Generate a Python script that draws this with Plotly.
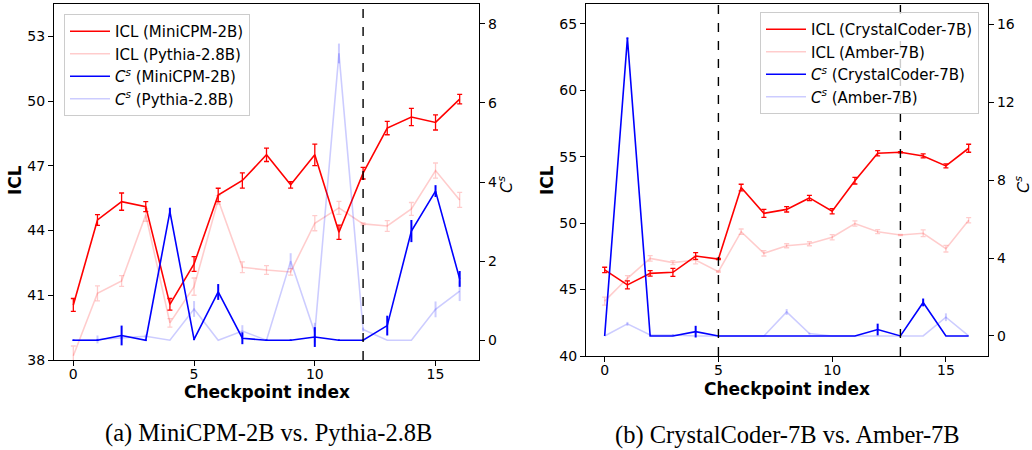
import plotly.graph_objects as go

checkpoints = list(range(17))

# (a) MiniCPM-2B vs. Pythia-2.8B
icl_minicpm = [40.55, 44.49, 45.34, 45.11, 40.58, 42.45, 45.65, 46.32, 47.51, 46.12, 47.51, 43.92, 46.66, 48.75, 49.26, 49.01, 50.09]
icl_minicpm_err = [0.3, 0.25, 0.4, 0.23, 0.27, 0.34, 0.31, 0.35, 0.31, 0.15, 0.5, 0.33, 0.27, 0.31, 0.4, 0.35, 0.22]
icl_pythia = [38.2, 41.09, 41.66, 44.73, 39.72, 41.4, 45.42, 42.3, 42.17, 42.08, 44.34, 45.05, 44.31, 44.21, 45.0, 46.78, 45.42]
icl_pythia_err = [0.45, 0.35, 0.25, 0.3, 0.2, 0.4, 0.2, 0.25, 0.2, 0.15, 0.35, 0.3, 0.05, 0.25, 0.3, 0.35, 0.35]
cs_minicpm = [0, 0, 0.12, 0, 3.25, 0.02, 1.22, 0.05, 0, 0, 0.08, 0, 0, 0.37, 2.76, 3.77, 1.55]
cs_minicpm_err = [0.02, 0.02, 0.25, 0.02, 0.1, 0.02, 0.2, 0.15, 0.02, 0.02, 0.25, 0.02, 0.02, 0.25, 0.28, 0.15, 0.2]
cs_pythia = [0, 0.02, 0.06, 0.1, 0, 0.79, 0, 0.23, 0, 2.0, 0.19, 7.25, 0.27, 0, 0, 0.78, 1.24]
cs_pythia_err = [0, 0.1, 0.05, 0.05, 0, 0.2, 0, 0.15, 0, 0.2, 0.25, 0.25, 0.05, 0, 0, 0.2, 0.25]

# (b) CrystalCoder-7B vs. Amber-7B
icl_crystal = [46.48, 45.35, 46.22, 46.3, 47.53, 47.3, 52.68, 50.74, 51.04, 51.9, 50.9, 53.2, 55.26, 55.34, 55.06, 54.31, 55.64]
icl_crystal_err = [0.2, 0.3, 0.2, 0.3, 0.25, 0.05, 0.25, 0.3, 0.2, 0.2, 0.2, 0.25, 0.2, 0.05, 0.15, 0.15, 0.3]
icl_amber = [44.13, 45.85, 47.35, 47.03, 47.23, 46.35, 49.36, 47.73, 48.3, 48.45, 48.94, 49.97, 49.36, 49.11, 49.24, 48.08, 50.22]
icl_amber_err = [0.3, 0.2, 0.2, 0.15, 0.3, 0.05, 0.2, 0.2, 0.15, 0.15, 0.2, 0.2, 0.15, 0.05, 0.25, 0.25, 0.2]
cs_crystal = [0, 15.28, 0, 0, 0.22, 0, 0, 0, 0, 0, 0, 0, 0.33, 0, 1.72, 0, 0]
cs_crystal_err = [0, 0.05, 0, 0, 0.3, 0, 0, 0, 0, 0, 0, 0, 0.3, 0, 0.2, 0, 0]
cs_amber = [0, 0.62, 0.05, 0.05, 0, 0, 0, 0, 1.23, 0.12, 0, 0, 0, 0, 0, 0.96, 0]
cs_amber_err = [0, 0.1, 0.05, 0.05, 0, 0, 0, 0, 0.15, 0.05, 0, 0, 0, 0, 0, 0.2, 0]

left_ticks = [38, 41, 44, 47, 50, 53]
left_cs_ticks = [0, 2, 4, 6, 8]
right_ticks = [40, 45, 50, 55, 60, 65]
right_cs_ticks = [0, 4, 8, 12, 16]
x_ticks = [0, 5, 10, 15]

W, H = 1032, 450
RED = "rgb(255,0,0)"
PINK = "rgba(255,0,0,0.2)"
BLUE = "rgb(0,0,255)"
LBLUE = "rgba(0,0,255,0.2)"
CS = "<i>C</i><sup><i>s</i></sup>"

fig = go.Figure()


def add(y, err, name, color, xa, ya, legend, icl):
    fig.add_trace(go.Scatter(
        x=checkpoints, y=y, name=name, mode="lines",
        line=dict(color=color, width=1.6),
        error_y=dict(type="data", array=err, color=color,
                     thickness=1.3 if icl else 2, width=2.5 if icl else 0),
        xaxis=xa, yaxis=ya, legend=legend, legendgroup=name,
    ))


add(icl_minicpm, icl_minicpm_err, "ICL (MiniCPM-2B)", RED, "x", "y", "legend", True)
add(icl_pythia, icl_pythia_err, "ICL (Pythia-2.8B)", PINK, "x", "y", "legend", True)
add(cs_minicpm, cs_minicpm_err, CS + " (MiniCPM-2B)", BLUE, "x", "y2", "legend", False)
add(cs_pythia, cs_pythia_err, CS + " (Pythia-2.8B)", LBLUE, "x", "y2", "legend", False)

add(icl_crystal, icl_crystal_err, "ICL (CrystalCoder-7B)", RED, "x2", "y3", "legend2", True)
add(icl_amber, icl_amber_err, "ICL (Amber-7B)", PINK, "x2", "y3", "legend2", True)
add(cs_crystal, cs_crystal_err, CS + " (CrystalCoder-7B)", BLUE, "x2", "y4", "legend2", False)
add(cs_amber, cs_amber_err, CS + " (Amber-7B)", LBLUE, "x2", "y4", "legend2", False)

tickfont = dict(family="DejaVu Sans", size=14, color="black")
common = dict(showline=True, linecolor="black", linewidth=1.2,
              ticks="outside", ticklen=5, tickwidth=1.1, tickcolor="black",
              showgrid=False, zeroline=False, tickfont=tickfont, automargin=False)


def px(x):
    return x / W


def py(y):
    return 1 - y / H


fig.update_layout(
    width=W, height=H,
    margin=dict(l=0, r=0, t=0, b=0),
    plot_bgcolor="white", paper_bgcolor="white",
    font=dict(family="DejaVu Sans", size=14, color="black"),
    xaxis=dict(domain=[px(54), px(479)], range=[-0.8, 16.8], tickvals=x_ticks,
               anchor="y", mirror=True, ticklabelstandoff=-4, **common),
    yaxis=dict(domain=[py(360), py(4)], range=[38, 54.5], tickvals=left_ticks,
               anchor="x", **common),
    yaxis2=dict(overlaying="y", side="right", range=[-0.5, 8.5], tickvals=left_cs_ticks,
                anchor="x", **common),
    xaxis2=dict(domain=[px(586), px(988)], range=[-0.82, 16.85], tickvals=x_ticks,
                anchor="y3", mirror=True, ticklabelstandoff=-4, **common),
    yaxis3=dict(domain=[py(356), py(4)], range=[40, 66.5], tickvals=right_ticks,
                anchor="x2", **common),
    yaxis4=dict(overlaying="y3", side="right", range=[-1.03, 17.04], tickvals=right_cs_ticks,
                anchor="x2", **common),
    legend=dict(x=px(64), y=py(14), xanchor="left", yanchor="top",
                bgcolor="rgba(255,255,255,0.8)", bordercolor="#cccccc", borderwidth=1,
                tracegroupgap=0, itemwidth=40,
                font=dict(family="DejaVu Sans", size=15)),
    legend2=dict(x=px(979), y=py(12), xanchor="right", yanchor="top",
                 bgcolor="rgba(255,255,255,0.8)", bordercolor="#cccccc", borderwidth=1,
                 tracegroupgap=0, itemwidth=40,
                 font=dict(family="DejaVu Sans", size=15)),
    showlegend=True,
)

shapes = []
for xv, xr, yr in [(12, "x", "y domain"), (5, "x2", "y3 domain"), (13, "x2", "y3 domain")]:
    shapes.append(dict(type="line", xref=xr, yref=yr, x0=xv, x1=xv, y0=0, y1=1,
                       line=dict(color="black", width=1.4, dash="dash")))
fig.update_layout(shapes=shapes)

ann = []
titlefont = dict(family="DejaVu Sans", size=17, color="black", weight="bold")
ann.append(dict(text="<b>ICL</b>", x=px(15), y=py(180), textangle=-90, font=titlefont))
ann.append(dict(text="<b>ICL</b>", x=px(547), y=py(180), textangle=-90, font=titlefont))
ann.append(dict(text=CS, x=px(505), y=py(185), textangle=-90,
                font=dict(family="DejaVu Sans", size=16, color="black")))
ann.append(dict(text=CS, x=px(1022), y=py(185), textangle=-90,
                font=dict(family="DejaVu Sans", size=16, color="black")))
ann.append(dict(text="<b>Checkpoint index</b>", x=px(266.5), y=py(392), font=titlefont))
ann.append(dict(text="<b>Checkpoint index</b>", x=px(787), y=py(389), font=titlefont))
capfont = dict(family="Liberation Serif", size=24.5, color="black")
ann.append(dict(text="(a) MiniCPM-2B vs. Pythia-2.8B", x=px(268), y=py(433), font=capfont))
ann.append(dict(text="(b) CrystalCoder-7B vs. Amber-7B", x=px(787), y=py(435), font=capfont))
for a in ann:
    a.update(xref="paper", yref="paper", showarrow=False, xanchor="center", yanchor="middle")
fig.update_layout(annotations=ann)

fig.write_html("out.html", config={"displayModeBar": False},
               post_script="document.body.style.margin='0px';document.body.style.overflow='hidden';")
